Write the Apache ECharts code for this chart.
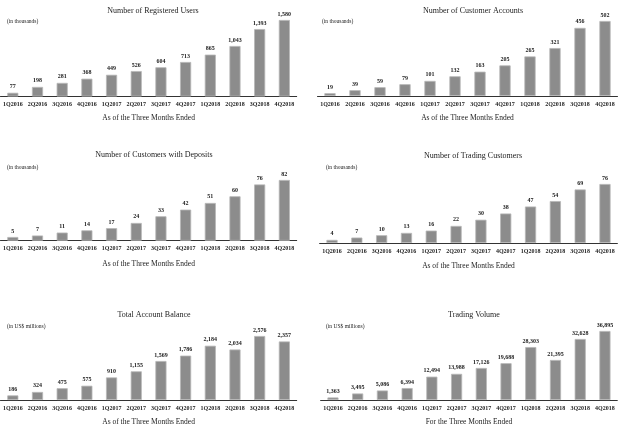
<!DOCTYPE html>
<html>
<head>
<meta charset="utf-8">
<script src="https://cdn.jsdelivr.net/npm/echarts@6/dist/echarts.min.js"></script>
<style>html,body{margin:0;padding:0;background:#fff}#c{width:618px;height:427px}</style>
</head>
<body>
<div id="c"></div>
<script>
const categories = ['1Q2016','2Q2016','3Q2016','4Q2016','1Q2017','2Q2017','3Q2017','4Q2017','1Q2018','2Q2018','3Q2018','4Q2018'];
const registeredUsers = [77,198,281,368,449,526,604,713,865,1043,1393,1580];
const customerAccounts = [19,39,59,79,101,132,163,205,265,321,456,502];
const customersWithDeposits = [5,7,11,14,17,24,33,42,51,60,76,82];
const tradingCustomers = [4,7,10,13,16,22,30,38,47,54,69,76];
const totalAccountBalance = [186,324,475,575,910,1155,1569,1786,2184,2034,2576,2357];
const tradingVolume = [1363,3495,5086,6394,12494,13988,17126,19688,28303,21395,32628,36895];

const titles = ['Number of Registered Users','Number of Customer Accounts','Number of Customers with Deposits','Number of Trading Customers','Total Account Balance','Trading Volume'];
const units = ['(in thousands)','(in thousands)','(in thousands)','(in thousands)','(in US$ millions)','(in US$ millions)'];
const axisNames = ['As of the Three Months Ended','As of the Three Months Ended','As of the Three Months Ended','As of the Three Months Ended','As of the Three Months Ended','For the Three Months Ended'];
const seriesData = [registeredUsers, customerAccounts, customersWithDeposits, tradingCustomers, totalAccountBalance, tradingVolume];

const FONT = 'Liberation Serif';
const layout = [
  {left:0.3, width:296.4, top:20, bottom:96.5, max:1580, tx:148, ty:6, ux:2, uy:17, gap:18},
  {left:317.5, width:300, top:21, bottom:96, max:502, tx:468, ty:6, ux:317, uy:17, gap:18},
  {left:0.3, width:296.4, top:180, bottom:240.7, max:82, tx:149, ty:150, ux:2, uy:163, gap:19},
  {left:319.6, width:297.8, top:184, bottom:243, max:76, tx:468, ty:151, ux:321, uy:163, gap:19},
  {left:0.3, width:296.4, top:336, bottom:400.7, max:2576, tx:149, ty:310, ux:2, uy:322, gap:18},
  {left:320.6, width:296.7, top:331, bottom:401.7, max:36895, tx:469, ty:310, ux:321, uy:322, gap:18}
];

const grid = [], xAxis = [], yAxis = [], series = [], title = [];
layout.forEach((L, i) => {
  grid.push({left:L.left, width:L.width, top:L.top, height:L.bottom - L.top});
  xAxis.push({
    type:'category', gridIndex:i, data:categories,
    axisLine:{lineStyle:{color:'#333', width:1}},
    axisTick:{show:false},
    axisLabel:{fontFamily:FONT, fontSize:6, fontWeight:'bold', color:'#222', margin:5, interval:0},
    name:axisNames[i], nameLocation:'middle', nameGap:L.gap,
    nameTextStyle:{fontFamily:FONT, fontSize:7.5, color:'#222'}
  });
  yAxis.push({type:'value', gridIndex:i, min:0, max:L.max, show:false, splitLine:{show:false}});
  series.push({
    type:'bar', xAxisIndex:i, yAxisIndex:i, data:seriesData[i], barWidth:'45%',
    itemStyle:{color:'#8c8c8c', borderColor:'#b8b8b8', borderWidth:0.8},
    label:{show:true, position:'top', distance:3, fontFamily:FONT, fontSize:6, fontWeight:'bold', color:'#222',
      formatter:p => p.value.toLocaleString('en-US')},
    silent:true, animation:false
  });
  title.push({text:titles[i], left:L.tx, top:L.ty, textAlign:'center', textVerticalAlign:'middle',
    textStyle:{fontFamily:FONT, fontSize:8, fontWeight:'normal', color:'#222'}});
  title.push({text:units[i], left:L.ux, top:L.uy, textVerticalAlign:'middle',
    textStyle:{fontFamily:FONT, fontSize:5.5, fontWeight:'normal', color:'#222'}});
});

const chart = echarts.init(document.getElementById('c'), null, {renderer:'canvas'});
chart.setOption({animation:false, title, grid, xAxis, yAxis, series});
</script>
</body>
</html>
